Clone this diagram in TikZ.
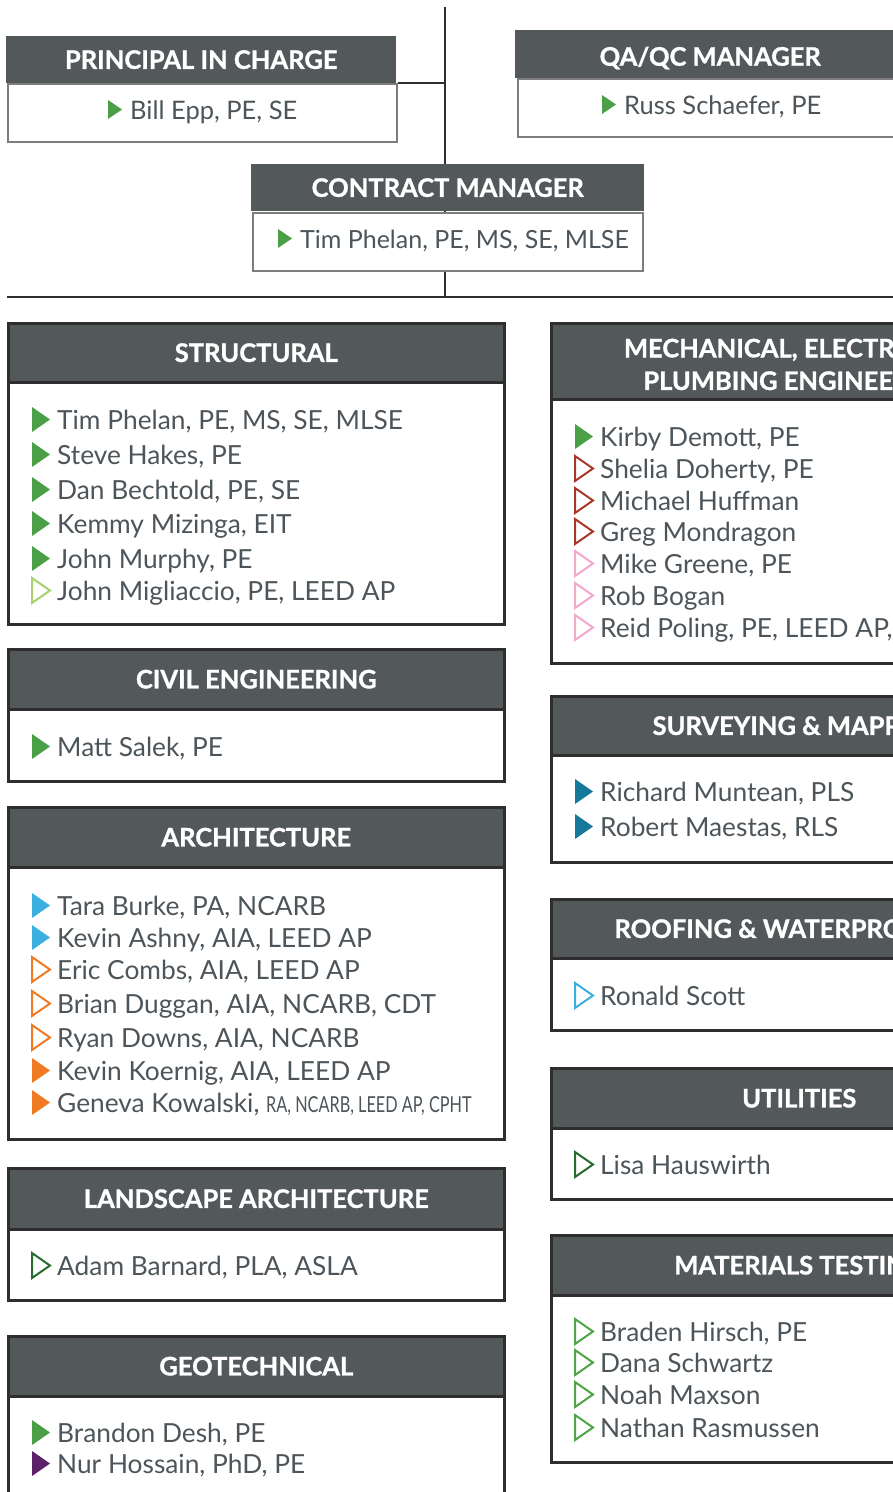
\documentclass[tikz,border=0pt]{standalone}
\usepackage{fontspec}
\setmainfont{Lato}
\newfontfamily\headfont{Lato}[BoldFeatures={FakeBold=1.2}]
\usetikzlibrary{positioning}

\definecolor{hdgrey}{HTML}{53585B}
\definecolor{txtgrey}{HTML}{4D555A}
\definecolor{bord}{HTML}{2E2E2E}
\definecolor{topbord}{HTML}{7D7D7D}
\definecolor{grn}{HTML}{4A9F47}
\definecolor{ltgrn}{HTML}{A8D06E}
\definecolor{dkgrn}{HTML}{276B2E}
\definecolor{mdgrn}{HTML}{4CA648}
\definecolor{dkred}{HTML}{A8392A}
\definecolor{pnk}{HTML}{F4A8CB}
\definecolor{ltblu}{HTML}{3BAFE0}
\definecolor{teal}{HTML}{16799A}
\definecolor{orng}{HTML}{EF7A22}
\definecolor{purp}{HTML}{5C2167}

% bullet size: width, height, gap to text, drop below baseline
\newcommand{\bw}{18}
\newcommand{\bh}{25}
\newcommand{\bx}{25}
\newcommand{\by}{3}
% name, x, baseline y, bullet style, text
\newcommand{\who}[5]{%
  \node[member] (#1) at (#2,#3) {#5};
  \path[#4] ([xshift=-\bx pt,yshift=-\by pt]#1.base west) -- ++(0,-\bh) -- ++(\bw,\bh/2) -- cycle;}

\begin{document}
\begin{tikzpicture}[x=1pt, y=-1pt]
  \tikzset{
    head/.style={rectangle, anchor=north west, inner sep=0pt, fill=hdgrey, draw=bord, line width=2.5pt, text=white, minimum width=496pt, minimum height=#1, font=\headfont\fontsize{25.5}{32.6}\selectfont\bfseries, text height=18.3pt, text depth=0pt},
    body/.style={rectangle, anchor=north west, inner sep=0pt, fill=white, draw=bord, line width=2.5pt, minimum width=496pt, minimum height=#1},
    tophead/.style={rectangle, anchor=north west, inner sep=0pt, fill=hdgrey, text=white, minimum height=47pt, font=\headfont\fontsize{25.5}{30}\selectfont\bfseries, text height=18.3pt, text depth=0pt},
    topbody/.style={rectangle, anchor=north west, inner sep=0pt, fill=white, draw=topbord, line width=2pt, minimum height=58pt},
    member/.style={anchor=base west, inner sep=0pt, text=txtgrey, font=\fontsize{26.3}{32}\selectfont},
    link/.style={draw=bord, line width=2.5pt},
    fg/.style={fill=grn}, fb/.style={fill=ltblu}, fo/.style={fill=orng},
    ft/.style={fill=teal}, fp/.style={fill=purp},
    og/.style={draw=ltgrn, line width=2pt, fill=white},
    odg/.style={draw=dkgrn, line width=2pt, fill=white},
    omg/.style={draw=mdgrn, line width=2pt, fill=white},
    ored/.style={draw=dkred, line width=2pt, fill=white},
    opk/.style={draw=pnk, line width=2pt, fill=white},
    oor/.style={draw=orng, line width=2pt, fill=white},
    obl/.style={draw=ltblu, line width=2pt, fill=white},
  }
  \useasboundingbox (0,0) rectangle (893,1492);
  \clip (0,0) rectangle (893,1492);

  %connectors
  \coordinate (spine) at (445,7);
  \coordinate (rule-l) at (7,297);
  \coordinate (rule-r) at (900,297);
  \node[topbody, minimum width=389pt] (princ-b) at (7,83) {};
  \draw[link] (princ-b.north east) -- (princ-b.north east -| spine);
  \draw[link] (spine) -- (spine |- rule-l);
  \draw[link] (rule-l) -- (rule-r);

  %top boxes
  \node[tophead, minimum width=390pt] (princ-h) at (6,36) {PRINCIPAL IN CHARGE};
  \node[tophead, minimum width=390pt, minimum height=48pt, text height=23pt] (qaqc-h) at (515,30) {QA/QC MANAGER};
  \node[topbody, minimum width=389pt] (qaqc-b) at (517,78) {};
  \node[topbody, minimum width=390pt] (cm-b) at (252,212) {};
  \node[tophead, minimum width=393pt] (cm-h) at (251,164) {CONTRACT MANAGER};
  \renewcommand{\bw}{14}\renewcommand{\bh}{19}\renewcommand{\bx}{22}\renewcommand{\by}{0}
  \who{epp}{130}{119}{fg}{\fontsize{25.5}{31}\selectfont Bill Epp, PE, SE}
  \who{schaefer}{624}{114}{fg}{\fontsize{25.5}{31}\selectfont Russ Schaefer, PE}
  \who{phelan-cm}{300}{248}{fg}{\fontsize{25}{31}\selectfont Tim Phelan, PE, MS, SE, MLSE}
  \renewcommand{\bw}{18}\renewcommand{\bh}{25}\renewcommand{\bx}{25}\renewcommand{\by}{3}

  %left column
  \node[body=242pt] (struct-b) at (7,381) {};
  \node[head=59pt] (struct-h) at (7,322) {STRUCTURAL};
  \who{phelan}{57}{429}{fg}{Tim Phelan, PE, MS, SE, MLSE}
  \who{hakes}{57}{464}{fg}{Steve Hakes, PE}
  \who{bechtold}{57}{499}{fg}{Dan Bechtold, PE, SE}
  \who{mizinga}{57}{533}{fg}{Kemmy Mizinga, EIT}
  \who{murphy}{57}{568}{fg}{John Murphy, PE}
  \who{migliaccio}{57}{600}{og}{John Migliaccio, PE, LEED AP}

  \node[body=72pt] (civil-b) at (7,708) {};
  \node[head=60pt] (civil-h) at (7,648) {CIVIL ENGINEERING};
  \who{salek}{57}{756}{fg}{Matt Salek, PE}

  \node[body=272pt] (arch-b) at (7,866) {};
  \node[head=60pt] (arch-h) at (7,806) {ARCHITECTURE};
  \who{burke}{57}{915}{fb}{Tara Burke, PA, NCARB}
  \who{ashny}{57}{947}{fb}{Kevin Ashny, AIA, LEED AP}
  \who{combs}{57}{979}{oor}{Eric Combs, AIA, LEED AP}
  \who{duggan}{57}{1013}{oor}{Brian Duggan, AIA, NCARB, CDT}
  \who{downs}{57}{1047}{oor}{Ryan Downs, AIA, NCARB}
  \who{koernig}{57}{1080}{fo}{Kevin Koernig, AIA, LEED AP}
  \who{kowalski}{57}{1112}{fo}{Geneva Kowalski, \scalebox{0.74}[1]{\fontsize{22}{26}\selectfont RA, NCARB, LEED AP, CPHT}}

  \node[body=71pt] (land-b) at (7,1228) {};
  \node[head=61pt] (land-h) at (7,1167) {LANDSCAPE ARCHITECTURE};
  \who{barnard}{57}{1275}{odg}{Adam Barnard, PLA, ASLA}

  \node[body=120pt] (geo-b) at (7,1395) {};
  \node[head=60pt] (geo-h) at (7,1335) {GEOTECHNICAL};
  \who{desh}{57}{1442}{fg}{Brandon Desh, PE}
  \who{hossain}{57}{1473}{fp}{Nur Hossain, PhD, PE}

  %right column
  \node[body=264pt] (mep-b) at (550,398) {};
  \node[head=76pt, text height=, text depth=, align=center] (mep-h) at (550,322) {\rule{0pt}{25pt}MECHANICAL, ELECTRICAL \&\\PLUMBING ENGINEERING};
  \who{demott}{600}{446}{fg}{Kirby Demott, PE}
  \who{doherty}{600}{478}{ored}{Shelia Doherty, PE}
  \who{huffman}{600}{510}{ored}{Michael Huffman}
  \who{mondragon}{600}{541}{ored}{Greg Mondragon}
  \who{greene}{600}{573}{opk}{Mike Greene, PE}
  \who{bogan}{600}{605}{opk}{Rob Bogan}
  \who{poling}{600}{637}{opk}{Reid Poling, PE, LEED AP, BEMP}

  \node[body=107pt] (surv-b) at (550,754) {};
  \node[head=59pt] (surv-h) at (550,695) {SURVEYING \& MAPPING};
  \who{muntean}{600}{801}{ft}{Richard Muntean, PLS}
  \who{maestas}{600}{836}{ft}{Robert Maestas, RLS}

  \node[body=72pt] (roof-b) at (550,957) {};
  \node[head=59pt] (roof-h) at (550,898) {ROOFING \& WATERPROOFING};
  \who{scott}{600}{1005}{obl}{Ronald Scott}

  \node[body=71pt] (util-b) at (550,1127) {};
  \node[head=60pt] (util-h) at (550,1067) {UTILITIES};
  \who{hauswirth}{600}{1174}{odg}{Lisa Hauswirth}

  \node[body=167pt] (mat-b) at (550,1294) {};
  \node[head=60pt] (mat-h) at (550,1234) {MATERIALS TESTING};
  \who{hirsch}{600}{1341}{omg}{Braden Hirsch, PE}
  \who{schwartz}{600}{1372}{omg}{Dana Schwartz}
  \who{maxson}{600}{1404}{omg}{Noah Maxson}
  \who{rasmussen}{600}{1437}{omg}{Nathan Rasmussen}
\end{tikzpicture}
\end{document}
